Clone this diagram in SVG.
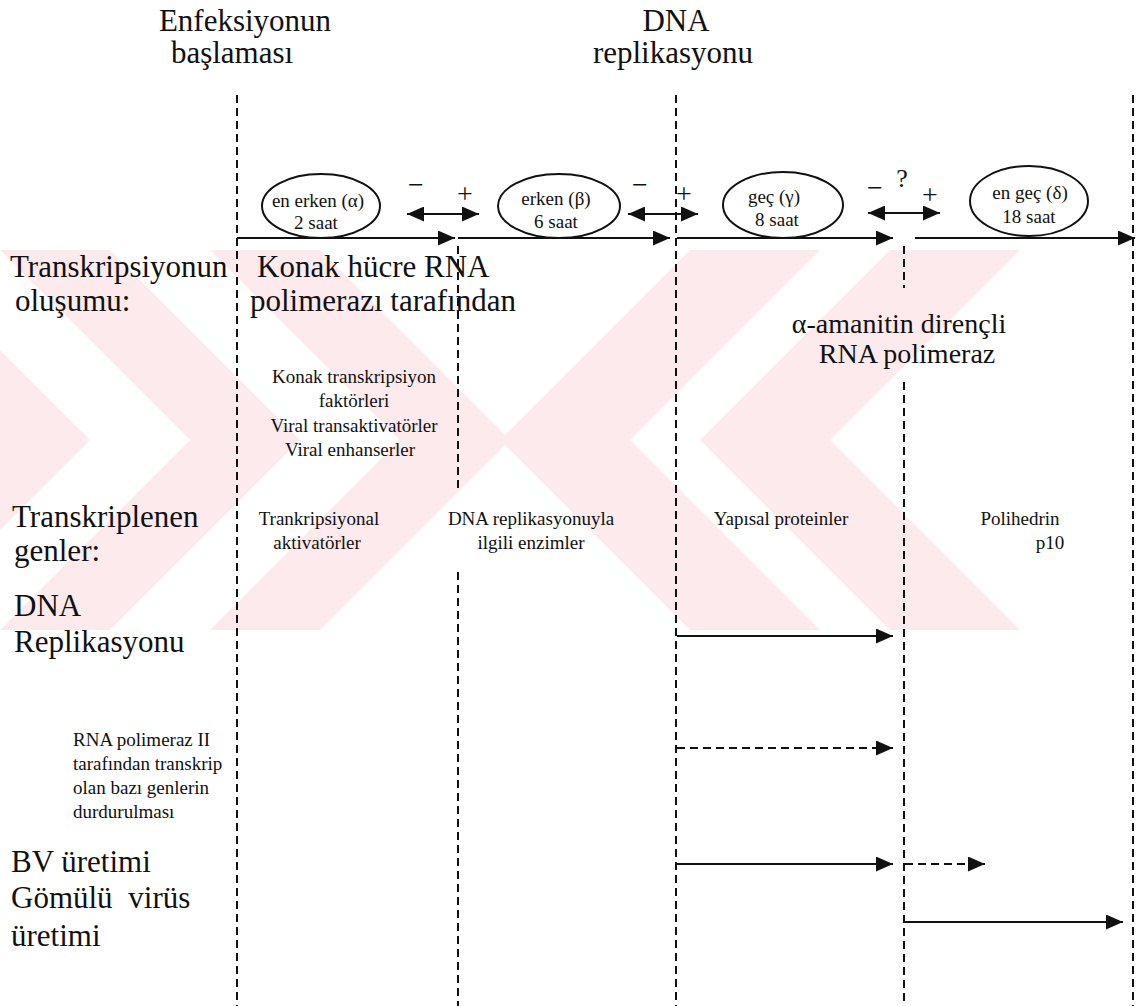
<svg xmlns="http://www.w3.org/2000/svg" width="1137" height="1006" viewBox="0 0 1137 1006" font-family="'Liberation Serif','Times New Roman',serif">
<style>
text{font-family:"Liberation Serif","Times New Roman",serif;fill:#111}
.big{font-size:31px}
.mid{font-size:28px}
.sm{font-size:19px}
.el{font-size:19px}
.c{text-anchor:middle}
.vl{stroke:#111;stroke-width:2;stroke-dasharray:8 5;fill:none}
.ar{stroke:#111;stroke-width:2;fill:none;marker-end:url(#ah)}
.da{stroke:#111;stroke-width:2;fill:none;marker-end:url(#ah);marker-start:url(#ah)}
.dsh{stroke-dasharray:8 5}
ellipse{fill:#fff;stroke:#111;stroke-width:2}
.wm{fill:#fdeaed}
</style>
<defs>
<marker id="ah" markerUnits="userSpaceOnUse" markerWidth="17" markerHeight="15" refX="17" refY="7.5" orient="auto-start-reverse">
<path d="M0,0 L17,7.5 L0,15 z" fill="#111"/>
</marker>
<clipPath id="wmclip"><rect x="0" y="250" width="1137" height="380"/></clipPath>
</defs>
<rect width="1137" height="1006" fill="#fff"/>

<g id="watermark" clip-path="url(#wmclip)">
<polygon class="wm" points="-210,250 -100,250 90,440 -100,630 -210,630 -20,440"/>
<polygon class="wm" points="0,250 110,250 300,440 110,630 0,630 190,440"/>
<polygon class="wm" points="210,250 320,250 510,440 320,630 210,630 400,440"/>
<polygon class="wm" points="500,440 690,250 820,250 630,440 820,630 690,630"/>
<polygon class="wm" points="700,440 890,250 1020,250 830,440 1020,630 890,630"/>
</g>

<g id="titles">
<text class="big c" x="245" y="31">Enfeksiyonun</text>
<text class="big c" x="232" y="63">başlaması</text>
<text class="big c" x="676" y="31">DNA</text>
<text class="big c" x="673" y="63">replikasyonu</text>
</g>

<g id="connectors">
<line class="vl" x1="237" y1="95" x2="237" y2="1006"/>
<line class="vl" x1="458" y1="246" x2="458" y2="492"/>
<line class="vl" x1="458" y1="572" x2="458" y2="1006"/>
<line class="vl" x1="676" y1="95" x2="676" y2="1006"/>
<line class="vl" x1="904" y1="246" x2="904" y2="288"/>
<line class="vl" x1="904" y1="382" x2="904" y2="1006"/>
<line class="vl" x1="1133" y1="95" x2="1133" y2="1006"/>

<line class="ar" x1="237" y1="238" x2="455" y2="238"/>
<line class="ar" x1="458" y1="238" x2="670" y2="238"/>
<line class="ar" x1="677" y1="238" x2="893" y2="238"/>
<line class="ar" x1="915" y1="238" x2="1135" y2="238"/>

<line class="da" x1="407" y1="214" x2="479" y2="214"/>
<line class="da" x1="628" y1="214" x2="698" y2="214"/>
<line class="da" x1="868" y1="213" x2="940" y2="213"/>

<line class="ar" x1="677" y1="636" x2="893" y2="636"/>
<line class="ar dsh" x1="677" y1="748" x2="893" y2="748"/>
<line class="ar" x1="677" y1="864" x2="893" y2="864"/>
<line class="ar dsh" x1="905" y1="864" x2="985" y2="864"/>
<line class="ar" x1="905" y1="922" x2="1123" y2="922"/>
</g>

<g id="signs">
<text class="mid c" x="416" y="194">−</text>
<text class="mid c" x="465" y="203">+</text>
<text class="mid c" x="640" y="194">−</text>
<text class="mid c" x="684" y="203">+</text>
<text class="mid c" x="875" y="197">−</text>
<text class="mid c" x="902" y="187" style="font-size:26px">?</text>
<text class="mid c" x="930" y="204">+</text>
</g>

<g id="node-alpha">
<ellipse cx="321" cy="206" rx="59" ry="32"/>
<text class="el c" x="318" y="207">en erken (α)</text>
<text class="el c" x="316" y="229">2 saat</text>
</g>
<g id="node-beta">
<ellipse cx="559" cy="206" rx="61" ry="32"/>
<text class="el c" x="556" y="205">erken (β)</text>
<text class="el c" x="556" y="228">6 saat</text>
</g>
<g id="node-gamma">
<ellipse cx="783" cy="205" rx="60" ry="33"/>
<text class="el c" x="774" y="203">geç (γ)</text>
<text class="el c" x="777" y="226">8 saat</text>
</g>
<g id="node-delta">
<ellipse cx="1029" cy="201" rx="59" ry="35"/>
<text class="el c" x="1030" y="199">en geç (δ)</text>
<text class="el c" x="1029" y="223">18 saat</text>
</g>

<g id="row-transkripsiyon">
<text class="big" x="10" y="277">Transkripsiyonun</text>
<text class="big" x="15" y="311">oluşumu:</text>
<text class="big" x="257" y="277">Konak hücre RNA</text>
<text class="big" x="250" y="311">polimerazı tarafından</text>
<text class="mid c" x="899" y="333">α-amanitin dirençli</text>
<text class="mid c" x="907" y="363">RNA polimeraz</text>
<text class="sm c" x="354" y="383">Konak transkripsiyon</text>
<text class="sm c" x="354" y="407">faktörleri</text>
<text class="sm c" x="354" y="432">Viral transaktivatörler</text>
<text class="sm c" x="350" y="456">Viral enhanserler</text>
</g>

<g id="row-genler">
<text class="big" x="12" y="527">Transkriplenen</text>
<text class="big" x="14" y="561">genler:</text>
<text class="sm c" x="319" y="525">Trankripsiyonal</text>
<text class="sm c" x="317" y="549">aktivatörler</text>
<text class="sm c" x="531" y="525">DNA replikasyonuyla</text>
<text class="sm c" x="531" y="549">ilgili enzimler</text>
<text class="sm c" x="781" y="525">Yapısal proteinler</text>
<text class="sm c" x="1020" y="525">Polihedrin</text>
<text class="sm c" x="1050" y="549">p10</text>
</g>

<g id="row-dna">
<text class="big" x="14" y="616">DNA</text>
<text class="big" x="14" y="652">Replikasyonu</text>
</g>

<g id="row-rnapol">
<text class="sm" x="73" y="746">RNA polimeraz II</text>
<text class="sm" x="73" y="770">tarafından transkrip</text>
<text class="sm" x="73" y="794">olan bazı genlerin</text>
<text class="sm" x="73" y="818">durdurulması</text>
</g>

<g id="row-bv">
<text class="big" x="11" y="872">BV üretimi</text>
</g>
<g id="row-gomulu">
<text class="big" x="11" y="908" style="word-spacing:8px">Gömülü virüs</text>
<text class="big" x="11" y="946">üretimi</text>
</g>
</svg>
